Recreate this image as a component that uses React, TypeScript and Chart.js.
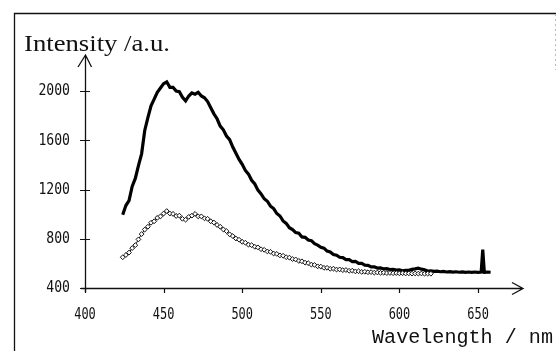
import React, { useEffect, useRef } from "react";
import { Chart, registerables } from "chart.js";

Chart.register(...registerables);

// Thick trace (excitation A)
const wavelengthsA = [
  424, 426, 428, 430, 432, 434, 436, 438, 440, 442, 444, 446, 448, 450, 452, 454, 456, 458, 460, 462,
  464, 466, 468, 470, 472, 474, 476, 478, 480, 482, 484, 486, 488, 490, 492, 494, 496, 498, 500, 502,
  504, 506, 508, 510, 512, 514, 516, 518, 520, 522, 524, 526, 528, 530, 532, 534, 536, 538, 540, 542,
  544, 546, 548, 550, 552, 554, 556, 558, 560, 562, 564, 566, 568, 570, 572, 574, 576, 578, 580, 582,
  584, 586, 588, 590, 592, 594, 596, 598, 600, 602, 604, 606, 608, 610, 612, 614, 616, 618, 620, 622,
  624, 626, 628, 630, 632, 634, 636, 638, 640, 642, 644, 646, 648, 650, 652, 653, 654, 656, 658,
];
const intensityA = [
  995, 1070, 1110, 1225, 1290, 1395, 1490, 1680, 1785, 1880, 1935, 1990, 2025, 2060, 2075, 2030, 2030, 2000, 1995, 1950,
  1920, 1960, 1985, 1975, 1990, 1960, 1945, 1915, 1865, 1815, 1775, 1715, 1685, 1635, 1605, 1545, 1495, 1445, 1405, 1355,
  1325, 1275, 1245, 1195, 1165, 1125, 1105, 1065, 1045, 1005, 985, 945, 925, 890, 875, 850, 845, 815, 812, 790,
  785, 760, 748, 730, 724, 700, 692, 672, 667, 650, 647, 630, 630, 615, 617, 600, 600, 586, 584, 572,
  572, 562, 563, 555, 557, 550, 552, 546, 547, 540, 544, 544, 551, 555, 561, 553, 547, 538, 540, 535,
  537, 532, 535, 530, 533, 529, 532, 528, 531, 527, 530, 527, 530, 527, 529, 712, 528, 529, 528,
];

// Open-diamond trace (excitation B)
const wavelengthsB = [
  424, 426, 428, 430, 432, 434, 436, 438, 440, 442, 444, 446, 448, 450, 452, 454, 456, 458, 460, 462,
  464, 466, 468, 470, 472, 474, 476, 478, 480, 482, 484, 486, 488, 490, 492, 494, 496, 498, 500, 502,
  504, 506, 508, 510, 512, 514, 516, 518, 520, 522, 524, 526, 528, 530, 532, 534, 536, 538, 540, 542,
  544, 546, 548, 550, 552, 554, 556, 558, 560, 562, 564, 566, 568, 570, 572, 574, 576, 578, 580, 582,
  584, 586, 588, 590, 592, 594, 596, 598, 600, 602, 604, 606, 608, 610, 612, 614, 616, 618, 620,
];
const intensityB = [
  650, 668, 688, 724, 748, 795, 838, 875, 898, 930, 942, 970, 982, 1005, 1025, 1005, 1002, 985, 988, 962,
  955, 978, 988, 1002, 982, 982, 966, 962, 942, 932, 912, 898, 876, 862, 836, 822, 802, 792, 775, 768,
  752, 748, 735, 730, 715, 710, 697, 694, 680, 677, 665, 662, 650, 647, 635, 632, 620, 617, 606, 602,
  590, 587, 576, 574, 564, 564, 556, 557, 550, 551, 545, 546, 540, 541, 535, 536, 531, 532, 528, 529,
  525, 526, 523, 524, 521, 522, 520, 521, 519, 520, 518, 519, 517, 518, 517, 518, 516, 517, 516,
];

const xTicks = [400, 450, 500, 550, 600, 650];
const yTicks = [400, 800, 1200, 1600, 2000];
const xTitle = "Wavelength / nm";
const yTitle = "Intensity /a.u.";

function fitText(ctx: CanvasRenderingContext2D, text: string, x: number, y: number, w: number, align: string) {
  const m = ctx.measureText(text).width;
  const s = w / m;
  let left = x;
  if (align === "right") left = x - w;
  else if (align === "center") left = x - w / 2;
  ctx.save();
  ctx.translate(left, y);
  ctx.scale(s, 1);
  ctx.textAlign = "left";
  ctx.fillText(text, 0, 0);
  ctx.restore();
}

const decorPlugin = {
  id: "decor",
  beforeDraw(chart: any) {
    const ctx = chart.ctx as CanvasRenderingContext2D;
    ctx.save();
    ctx.fillStyle = "#ffffff";
    ctx.fillRect(0, 0, chart.width, chart.height);
    ctx.restore();
  },
  afterDraw(chart: any) {
    const ctx = chart.ctx as CanvasRenderingContext2D;
    const xs = chart.scales.x;
    const ys = chart.scales.y;
    const x0 = xs.getPixelForValue(400);
    const y0 = ys.getPixelForValue(400);
    ctx.save();
    ctx.strokeStyle = "#111";
    ctx.fillStyle = "#111";
    ctx.lineWidth = 1.3;

    // frame
    ctx.beginPath();
    ctx.moveTo(14.5, 351);
    ctx.lineTo(14.5, 13.5);
    ctx.lineTo(556, 13.5);
    ctx.stroke();
    ctx.save();
    ctx.strokeStyle = "#bbb";
    ctx.lineWidth = 1;
    ctx.setLineDash([2, 3]);
    ctx.beginPath();
    ctx.moveTo(555.5, 14);
    ctx.lineTo(555.5, 70);
    ctx.stroke();
    ctx.restore();

    // x axis
    const xr = xs.right;
    ctx.beginPath();
    ctx.moveTo(x0 - 4, y0 + 0.5);
    ctx.lineTo(xr, y0 + 0.5);
    ctx.moveTo(xr - 11, y0 - 5.5);
    ctx.lineTo(xr, y0 + 0.5);
    ctx.lineTo(xr - 11, y0 + 6.5);
    ctx.stroke();
    // y axis
    const yt = ys.top;
    ctx.beginPath();
    ctx.moveTo(x0 + 0.5, y0 + 4);
    ctx.lineTo(x0 + 0.5, yt);
    ctx.moveTo(x0 - 7, yt + 12);
    ctx.lineTo(x0 + 0.5, yt);
    ctx.lineTo(x0 + 6.5, yt + 12);
    ctx.stroke();

    // ticks
    ctx.lineWidth = 1.2;
    ctx.beginPath();
    for (const v of xTicks) {
      const px = Math.round(xs.getPixelForValue(v)) + 0.5;
      ctx.moveTo(px, y0);
      ctx.lineTo(px, y0 + 5);
    }
    for (const v of yTicks) {
      const py = Math.round(ys.getPixelForValue(v)) + 0.5;
      ctx.moveTo(x0 - 5, py);
      ctx.lineTo(x0 + 5, py);
    }
    ctx.stroke();

    // tick labels
    ctx.font = "15px 'DejaVu Sans Mono'";
    ctx.textBaseline = "middle";
    for (const v of yTicks) {
      const py = ys.getPixelForValue(v);
      const t = String(v);
      fitText(ctx, t, 70, py + 0.5, t.length * 7.9, "right");
    }
    for (const v of xTicks) {
      const px = xs.getPixelForValue(v);
      const t = String(v);
      fitText(ctx, t, px, 315, t.length * 7.2, "center");
    }

    // titles
    ctx.textBaseline = "alphabetic";
    ctx.font = "24px 'Liberation Serif'";
    fitText(ctx, yTitle, 24, 51, 146, "left");
    ctx.font = "20px 'Liberation Mono'";
    fitText(ctx, xTitle, 372, 343, 181, "left");
    ctx.restore();
  },
};

export default function App() {
  const ref = useRef<HTMLCanvasElement | null>(null);
  useEffect(() => {
    if (!ref.current) return;
    const dataA = wavelengthsA.map((w, i) => ({ x: w, y: intensityA[i] }));
    const dataB = wavelengthsB.map((w, i) => ({ x: w, y: intensityB[i] }));
    const chart = new Chart(ref.current, {
      type: "line",
      data: {
        datasets: [
          {
            label: "B",
            data: dataB,
            borderColor: "#111",
            borderWidth: 1,
            pointStyle: "rectRot",
            pointRadius: 2.4,
            pointBackgroundColor: "#fff",
            pointBorderColor: "#111",
            pointBorderWidth: 1,
            tension: 0,
          },
          {
            label: "A",
            data: dataA,
            borderColor: "#000",
            borderWidth: 3.2,
            pointRadius: 0,
            tension: 0,
          },
        ],
      },
      options: {
        responsive: false,
        devicePixelRatio: 1,
        animation: false,
        layout: { padding: { left: 85, right: 34, top: 55, bottom: 63 } },
        plugins: { legend: { display: false }, tooltip: { enabled: false } },
        scales: {
          x: { type: "linear", min: 400, max: 678.6, display: false },
          y: { type: "linear", min: 400, max: 2293, display: false },
        },
      },
      plugins: [decorPlugin],
    });
    return () => chart.destroy();
  }, []);
  return (
    <div style={{ position: "fixed", left: 0, top: 0, width: 557, height: 351, background: "#fff" }}>
      <canvas ref={ref} width={557} height={351} style={{ width: 557, height: 351, display: "block" }} />
    </div>
  );
}
